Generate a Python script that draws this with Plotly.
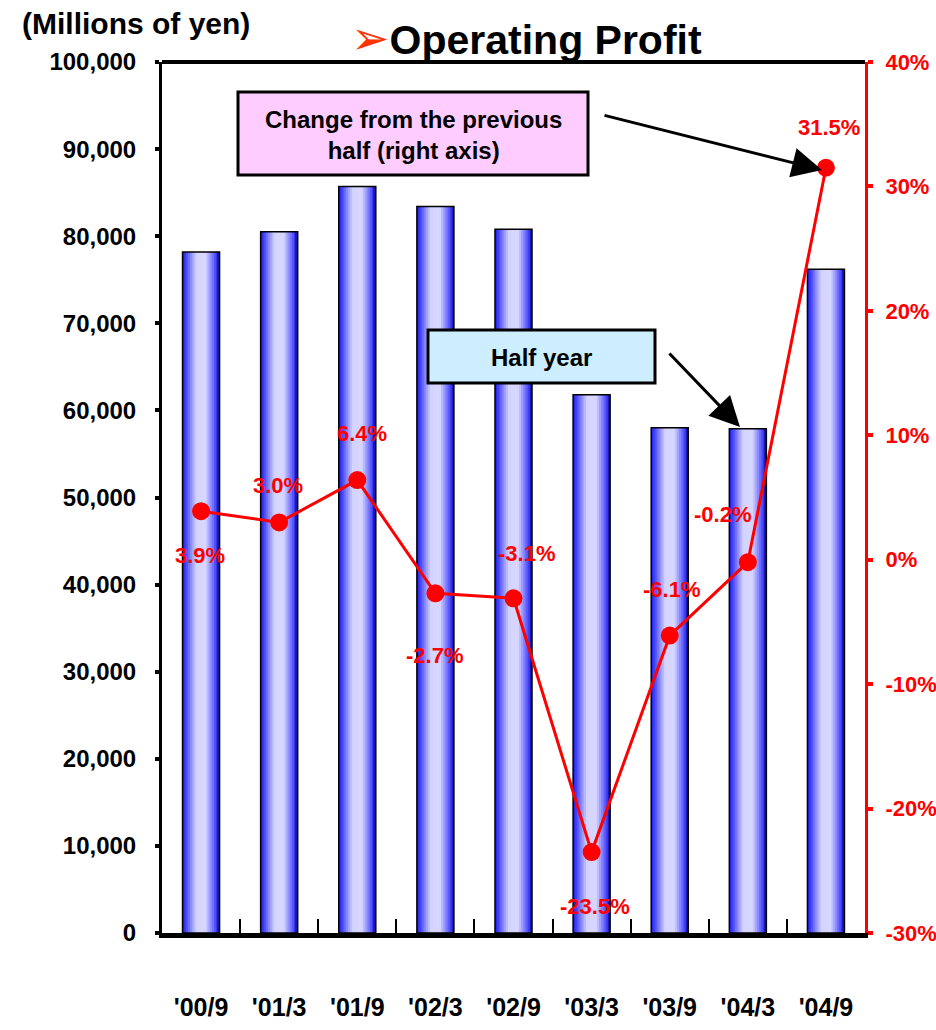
import plotly.graph_objects as go

# Half-year periods and operating profit (millions of yen)
periods = ["'00/9", "'01/3", "'01/9", "'02/3", "'02/9", "'03/3", "'03/9", "'04/3", "'04/9"]
profit = [78200, 80500, 85700, 83400, 80800, 61800, 58000, 57900, 76200]
# Change from the previous half (%)
change_pct = [3.9, 3.0, 6.4, -2.7, -3.1, -23.5, -6.1, -0.2, 31.5]

left_ticks = list(range(0, 100001, 10000))
left_tick_text = [f"{v:,}" for v in left_ticks]
right_ticks = list(range(-30, 41, 10))
right_tick_text = [f"{v}%" for v in right_ticks]

# label offsets (pixels) for the percentage labels
label_dx = [-1, -1, 5, -1, 13, 3, 2, -25, 3]
label_dy = [-44, 37, 47, -62, 45, -54, 46, 48, 40]

W, H = 936, 1030
L, R, T, B = 162, 865, 62, 933
SANS = "Liberation Sans, Arial, DejaVu Sans, sans-serif"
RED = "#FF0000"


def px(x):
    return (x - L) / (R - L)


def py(y):
    return (B - y) / (B - T)


# horizontal shading across each bar
stops = [
    (0.00, (30, 30, 230)),
    (0.08, (60, 60, 255)),
    (0.25, (150, 150, 255)),
    (0.38, (212, 212, 255)),
    (0.62, (214, 214, 255)),
    (0.75, (150, 150, 255)),
    (0.90, (70, 70, 255)),
    (1.00, (10, 10, 170)),
]


def shade(t):
    for (t0, c0), (t1, c1) in zip(stops[:-1], stops[1:]):
        if t0 <= t <= t1:
            f = (t - t0) / (t1 - t0)
            return "rgb(%d,%d,%d)" % tuple(round(a + (b - a) * f) for a, b in zip(c0, c1))
    return "rgb(%d,%d,%d)" % stops[-1][1]


fig = go.Figure()

bar_w = 0.474
n_strips = 20
strip_w = bar_w / n_strips
for i in range(n_strips):
    t = (i + 0.5) / n_strips
    w = strip_w * 1.4 if i < n_strips - 1 else strip_w
    fig.add_trace(go.Bar(
        x=periods, y=profit, width=w, offset=-bar_w / 2 + i * strip_w,
        marker=dict(color=shade(t), line=dict(width=0)),
        showlegend=False, hoverinfo="skip",
    ))
# bar outline
fig.add_trace(go.Bar(
    x=periods, y=profit, width=bar_w, offset=-bar_w / 2,
    marker=dict(color="rgba(0,0,0,0)", line=dict(color="black", width=1.5)),
    showlegend=False, hovertemplate="%{x}: %{y:,}<extra></extra>",
))

fig.add_trace(go.Scatter(
    x=periods, y=change_pct, yaxis="y2", mode="lines+markers",
    line=dict(color=RED, width=3),
    marker=dict(color=RED, size=18),
    showlegend=False, hovertemplate="%{x}: %{y:.1f}%<extra></extra>",
))

annotations = []
for p, v, dx, dy in zip(periods, change_pct, label_dx, label_dy):
    annotations.append(dict(
        x=p, y=v, xref="x", yref="y2", text=f"{v:.1f}%", showarrow=False,
        xshift=dx, yshift=dy, xanchor="center", yanchor="middle",
        font=dict(family=SANS, size=22, color=RED, weight="bold"),
    ))

# title and unit label
annotations.append(dict(
    x=px(526), y=py(38), xref="paper", yref="paper", showarrow=False,
    xanchor="center", yanchor="middle",
    text="<span style='color:#FF3300;font-size:46px'>➢</span>Operating Profit",
    font=dict(family=SANS, size=41, color="black", weight="bold"),
))
annotations.append(dict(
    x=px(20), y=py(24), xref="paper", yref="paper", showarrow=False,
    xanchor="left", yanchor="middle",
    text="(Millions of yen)",
    font=dict(family=SANS, size=30, color="black", weight="bold"),
))

# callout boxes text
annotations.append(dict(
    x=px(413), y=py(135), xref="paper", yref="paper", showarrow=False,
    xanchor="center", yanchor="middle",
    text="Change from the previous<br>half (right axis)",
    font=dict(family=SANS, size=24, color="black", weight="bold"),
))
annotations.append(dict(
    x=px(541), y=py(357), xref="paper", yref="paper", showarrow=False,
    xanchor="center", yanchor="middle",
    text="Half year",
    font=dict(family=SANS, size=24, color="black", weight="bold"),
))

# callout arrows
for (tx, ty), (hx, hy) in [((603, 115), (822, 170)), ((668, 352), (740, 427))]:
    annotations.append(dict(
        x=px(hx), y=py(hy), xref="paper", yref="paper", text="",
        showarrow=True, ax=tx - hx, ay=ty - hy, axref="pixel", ayref="pixel",
        arrowhead=2, arrowsize=2, arrowwidth=3, arrowcolor="black",
    ))

shapes = [
    dict(type="rect", xref="paper", yref="paper", x0=px(238), x1=px(588), y0=py(175), y1=py(92),
         fillcolor="#FFCCFF", line=dict(color="black", width=3), layer="above"),
    dict(type="rect", xref="paper", yref="paper", x0=px(428), x1=px(655), y0=py(383), y1=py(330),
         fillcolor="#CCEEFF", line=dict(color="black", width=3), layer="above"),
    # top frame line
    dict(type="line", xref="paper", yref="paper", x0=0, x1=1, y0=1, y1=1,
         line=dict(color="black", width=4)),
]

fig.update_layout(
    width=W, height=H,
    margin=dict(l=L, r=W - R, t=T, b=H - B, autoexpand=False),
    paper_bgcolor="white", plot_bgcolor="white",
    barmode="overlay",
    annotations=annotations, shapes=shapes,
    xaxis=dict(
        type="category", showgrid=False, zeroline=False, automargin=False,
        showline=True, linecolor="black", linewidth=5,
        ticks="inside", tickson="boundaries", ticklen=14, tickwidth=2, tickcolor="black",
        ticklabelstandoff=48, tickangle=0,
        tickfont=dict(family=SANS, size=25, color="black", weight="bold"),
        range=[-0.5, len(periods) - 0.5],
    ),
    yaxis=dict(
        range=[0, 100000], tickvals=left_ticks, ticktext=left_tick_text,
        showgrid=False, zeroline=False, automargin=False,
        showline=True, linecolor="black", linewidth=3,
        ticks="outside", ticklen=4, tickwidth=4, tickcolor="black",
        ticklabelstandoff=14,
        tickfont=dict(family=SANS, size=24, color="black", weight="bold"),
    ),
    yaxis2=dict(
        range=[-30, 40], tickvals=right_ticks, ticktext=right_tick_text,
        overlaying="y", side="right", showgrid=False, zeroline=False, automargin=False,
        showline=True, linecolor=RED, linewidth=3,
        ticks="outside", ticklen=5, tickwidth=4, tickcolor=RED,
        ticklabelstandoff=8,
        tickfont=dict(family=SANS, size=22, color=RED, weight="bold"),
    ),
)

fig.write_html("out.html")
